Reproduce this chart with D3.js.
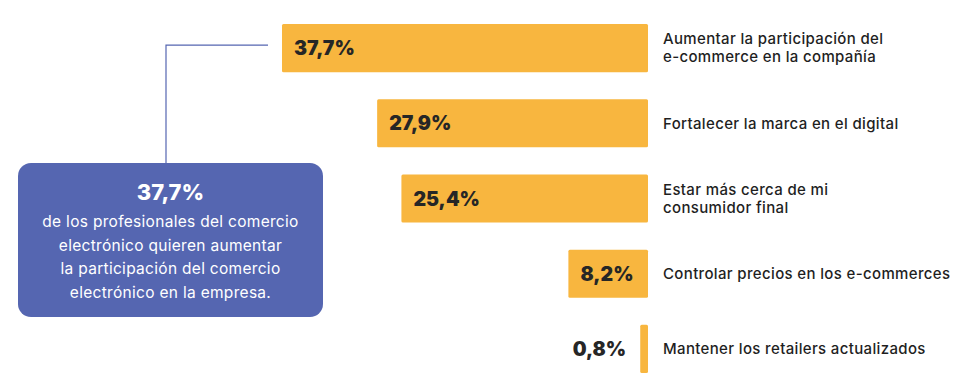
<!DOCTYPE html>
<html>
<head>
<meta charset="utf-8">
<script src="https://cdn.jsdelivr.net/npm/d3@7.9.0/dist/d3.min.js"></script>
<style>
  body { margin: 0; background: #fff; }
  svg { display: block; }
</style>
</head>
<body>
<div id="chart"></div>
<script>
const categories = [
  ['Aumentar la participación del', 'e-commerce en la compañía'],
  ['Fortalecer la marca en el digital'],
  ['Estar más cerca de mi', 'consumidor final'],
  ['Controlar precios en los e-commerces'],
  ['Mantener los retailers actualizados'],
];
const values = [37.7, 27.9, 25.4, 8.2, 0.8];
const valueLabels = ['37,7%', '27,9%', '25,4%', '8,2%', '0,8%'];

const calloutTitle = '37,7%';
const calloutLines = [
  'de los profesionales del comercio',
  'electrónico quieren aumentar',
  'la participación del comercio',
  'electrónico en la empresa.',
];

const width = 969;
const height = 386;
const barColor = '#f8b63f';
const blue = '#5566b1';
const font = 'Inter, "Open Sans", sans-serif';

const svg = d3.select('#chart')
  .append('svg')
  .attr('width', width)
  .attr('height', height);

// bars grow leftwards from a common right edge
const barRight = 648;
const xScale = d3.scaleLinear()
  .domain([0, 37.7])
  .range([0, 366]);

const yScale = d3.scaleBand()
  .domain(d3.range(values.length))
  .range([24, 373])
  .paddingInner(0.36)
  .paddingOuter(0);

const rows = values.map((v, i) => ({ v, i, label: valueLabels[i], cat: categories[i] }));

svg.append('g')
  .selectAll('rect')
  .data(rows)
  .join('rect')
  .attr('x', d => barRight - xScale(d.v))
  .attr('y', d => yScale(d.i))
  .attr('width', d => xScale(d.v))
  .attr('height', yScale.bandwidth())
  .attr('rx', 1.5)
  .attr('fill', barColor);

// value labels: inside when the bar is wide enough
svg.append('g')
  .selectAll('text')
  .data(rows)
  .join('text')
  .attr('x', d => xScale(d.v) > 60 ? barRight - xScale(d.v) + 12 : barRight - xScale(d.v) - 14)
  .attr('y', d => yScale(d.i) + yScale.bandwidth() / 2)
  .attr('dy', '0.36em')
  .attr('text-anchor', d => xScale(d.v) > 60 ? 'start' : 'end')
  .attr('font-family', font)
  .attr('font-weight', 900)
  .attr('font-size', 19.5)
  .attr('fill', '#262626')
  .text(d => d.label);

// category labels
const lineGap = 18;
const cats = svg.append('g')
  .selectAll('text')
  .data(rows)
  .join('text')
  .attr('x', 663)
  .attr('y', d => yScale(d.i) + yScale.bandwidth() / 2 - (d.cat.length - 1) * lineGap / 2)
  .attr('font-family', font)
  .attr('font-weight', 500)
  .attr('font-size', 15)
  .attr('letter-spacing', 0.35)
  .attr('fill', '#1f1f1f');

cats.selectAll('tspan')
  .data(d => d.cat)
  .join('tspan')
  .attr('x', 663)
  .attr('dy', (d, j) => j === 0 ? '0.36em' : lineGap)
  .text(d => d);

// connector from callout box to first bar
const box = { x: 18, y: 163, w: 305, h: 154 };
const lineX = 166;
const lineY = yScale(0) + yScale.bandwidth() / 2 - 3;
svg.append('path')
  .attr('d', `M${lineX},${box.y} V${lineY} H268`)
  .attr('fill', 'none')
  .attr('stroke', blue)
  .attr('stroke-width', 1.2);

svg.append('rect')
  .attr('x', box.x)
  .attr('y', box.y)
  .attr('width', box.w)
  .attr('height', box.h)
  .attr('rx', 13)
  .attr('fill', blue);

const cx = box.x + box.w / 2;
svg.append('text')
  .attr('x', cx)
  .attr('y', 200)
  .attr('text-anchor', 'middle')
  .attr('font-family', font)
  .attr('font-weight', 800)
  .attr('font-size', 22)
  .attr('fill', '#fff')
  .text(calloutTitle);

svg.append('g')
  .selectAll('text')
  .data(calloutLines)
  .join('text')
  .attr('x', cx)
  .attr('y', (d, i) => 227 + i * 23.5)
  .attr('text-anchor', 'middle')
  .attr('font-family', font)
  .attr('font-weight', 400)
  .attr('font-size', 15.5)
  .attr('letter-spacing', 0.3)
  .attr('fill', '#fff')
  .text(d => d);
</script>
</body>
</html>
